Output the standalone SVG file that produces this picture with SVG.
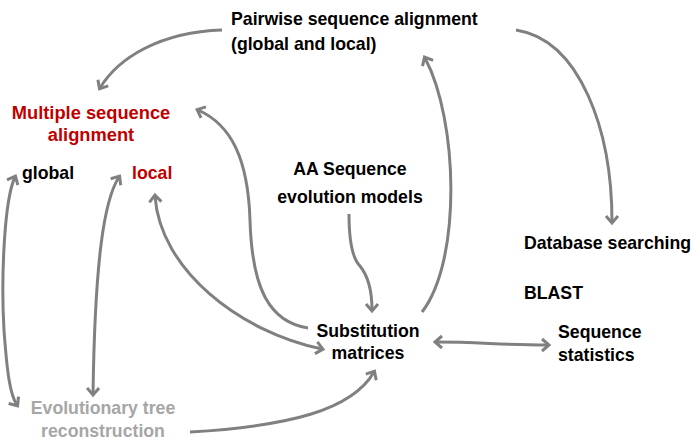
<svg xmlns="http://www.w3.org/2000/svg" width="696" height="442" viewBox="0 0 696 442">
<style>
text{font-family:"Liberation Sans",Arial,sans-serif;font-weight:bold;font-size:17.7px;fill:#000}
.red{fill:#c00000}
.big{font-size:18.3px}
.gray{fill:#a6a6a6}
.c path{fill:none;stroke:#808080;stroke-width:3}
</style>
<defs>
<marker id="ah" markerUnits="userSpaceOnUse" markerWidth="16" markerHeight="16" refX="8" refY="8" viewBox="0 0 16 16" orient="auto-start-reverse">
<path d="M2,2 L9,8 L2,14" fill="none" stroke="#808080" stroke-width="3"/>
</marker>
</defs>
<rect width="696" height="442" fill="#fff"/>
<g id="pairwise"><text x="231" y="25">Pairwise sequence alignment</text><text x="231" y="50">(global and local)</text></g>
<g id="msa"><text class="red big" x="91" y="119" text-anchor="middle">Multiple sequence</text><text class="red big" x="91" y="141" text-anchor="middle">alignment</text></g>
<g id="global"><text x="22" y="179">global</text></g>
<g id="local"><text class="red" x="132" y="179">local</text></g>
<g id="aa"><text x="350" y="175" text-anchor="middle">AA Sequence</text><text x="350" y="203" text-anchor="middle">evolution models</text></g>
<g id="db"><text x="524" y="249">Database searching</text></g>
<g id="blast"><text x="524" y="299">BLAST</text></g>
<g id="subst"><text x="368" y="337" text-anchor="middle">Substitution</text><text x="368" y="359" text-anchor="middle">matrices</text></g>
<g id="stats"><text x="558" y="338">Sequence</text><text x="558" y="361">statistics</text></g>
<g id="tree"><text class="gray" x="103" y="414" text-anchor="middle">Evolutionary tree</text><text class="gray" x="103" y="437" text-anchor="middle">reconstruction</text></g>
<g id="connectors" class="c">
<path d="M222,30 C160,32 118,58 100,88" marker-end="url(#ah)"/>
<path d="M308,328 C270,322 252,290 250,220 C248,160 232,125 198,110" marker-end="url(#ah)"/>
<path d="M155,196 C160,270 240,332 322,349" marker-start="url(#ah)" marker-end="url(#ah)"/>
<path d="M422,312 C462,260 458,120 425,58" marker-end="url(#ah)"/>
<path d="M516,30 C580,40 612,130 612,222" marker-end="url(#ah)"/>
<path d="M349,214 C349,240 352,258 360,266 C368,276 372,292 372,310" marker-end="url(#ah)"/>
<path d="M436,342 C480,342 500,345 548,345" marker-start="url(#ah)" marker-end="url(#ah)"/>
<path d="M15,177 C4,200 1,280 4,330 C7,372 10,395 17,405" marker-start="url(#ah)" marker-end="url(#ah)"/>
<path d="M119,177 C104,200 95,260 93,394" marker-start="url(#ah)" marker-end="url(#ah)"/>
<path d="M190,432 C290,426 352,410 374,372" marker-end="url(#ah)"/>
</g>
</svg>
